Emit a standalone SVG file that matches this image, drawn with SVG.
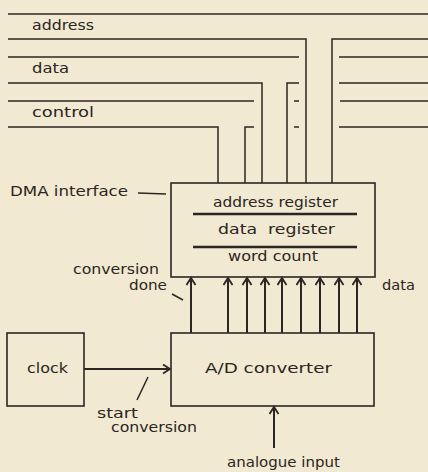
<svg xmlns="http://www.w3.org/2000/svg" width="428" height="472" viewBox="0 0 428 472">
<style>
.ln{stroke:#2b2622;stroke-width:1.5;fill:none}
.box{stroke:#2b2622;stroke-width:1.6;fill:none}
.sep{stroke:#2b2622;stroke-width:2.4}
.ar{stroke:#2b2622;stroke-width:2;fill:none}
text{font-family:"DejaVu Sans","Liberation Sans",sans-serif;font-size:13.5px;fill:#2b2622}
</style>
<defs>
<marker id="ah" markerUnits="userSpaceOnUse" markerWidth="12" markerHeight="12" refX="8" refY="5" orient="auto">
<path d="M1,0.5 L8,5 L1,9.5" fill="none" stroke="#2b2622" stroke-width="1.8"/>
</marker>
</defs>
<rect width="428" height="472" fill="#f2e9d3"/>
<g id="buses">
<path class="ln" d="M8,14 H428"/>
<path class="ln" d="M8,39 H306 V183"/>
<path class="ln" d="M428,39 H332 V183"/>
<path class="ln" d="M8,57 H299"/>
<path class="ln" d="M339,57 H428"/>
<path class="ln" d="M8,83 H262 V183"/>
<path class="ln" d="M299,83 H287 V183"/>
<path class="ln" d="M339,83 H428"/>
<path class="ln" d="M8,101 H254"/>
<path class="ln" d="M294,101 H299"/>
<path class="ln" d="M340,101 H428"/>
<path class="ln" d="M8,127 H218 V183"/>
<path class="ln" d="M254,127 H245 V183"/>
<path class="ln" d="M294,127 H299"/>
<path class="ln" d="M339,127 H428"/>
<text x="32" y="30" textLength="62" lengthAdjust="spacingAndGlyphs">address</text>
<text x="32" y="73" textLength="37" lengthAdjust="spacingAndGlyphs">data</text>
<text x="32" y="117" textLength="62" lengthAdjust="spacingAndGlyphs">control</text>
</g>
<g id="dma">
<rect class="box" x="171" y="183" width="204" height="94"/>
<text x="213" y="207" textLength="125" lengthAdjust="spacingAndGlyphs">address register</text>
<line class="sep" x1="193" y1="214" x2="357" y2="214"/>
<text x="218" y="234" textLength="117" lengthAdjust="spacingAndGlyphs" xml:space="preserve">data  register</text>
<line class="sep" x1="193" y1="247" x2="357" y2="247"/>
<text x="228" y="261" textLength="90" lengthAdjust="spacingAndGlyphs">word count</text>
<text x="10" y="196" textLength="118" lengthAdjust="spacingAndGlyphs">DMA interface</text>
<path class="ln" d="M138,193 L166,194"/>
</g>
<g id="adc">
<rect class="box" x="171" y="333" width="203" height="73"/>
<text x="205" y="373" textLength="127" lengthAdjust="spacingAndGlyphs">A/D converter</text>
</g>
<g id="clock">
<rect class="box" x="7" y="333" width="77" height="73"/>
<text x="27" y="373" textLength="41" lengthAdjust="spacingAndGlyphs">clock</text>
</g>
<g id="connectors">
<path class="ar" d="M191,333 V278" marker-end="url(#ah)"/>
<path class="ar" d="M228,333 V278" marker-end="url(#ah)"/>
<path class="ar" d="M247,333 V278" marker-end="url(#ah)"/>
<path class="ar" d="M265,333 V278" marker-end="url(#ah)"/>
<path class="ar" d="M282,333 V278" marker-end="url(#ah)"/>
<path class="ar" d="M301,333 V278" marker-end="url(#ah)"/>
<path class="ar" d="M320,333 V278" marker-end="url(#ah)"/>
<path class="ar" d="M339,333 V278" marker-end="url(#ah)"/>
<path class="ar" d="M357,333 V278" marker-end="url(#ah)"/>
<path class="ar" d="M84,369 H170" marker-end="url(#ah)"/>
<path class="ar" d="M274,448 V407" marker-end="url(#ah)"/>
</g>
<g id="labels">
<text x="73" y="274" textLength="86" lengthAdjust="spacingAndGlyphs">conversion</text>
<text x="129" y="290" textLength="38" lengthAdjust="spacingAndGlyphs">done</text>
<path class="ln" d="M172,294 L183,300"/>
<text x="382" y="290" textLength="33" lengthAdjust="spacingAndGlyphs">data</text>
<path class="ln" d="M148,377 L137,400"/>
<text x="97" y="418" textLength="41" lengthAdjust="spacingAndGlyphs">start</text>
<text x="111" y="432" textLength="86" lengthAdjust="spacingAndGlyphs">conversion</text>
<text x="227" y="467" textLength="113" lengthAdjust="spacingAndGlyphs">analogue input</text>
</g>
</svg>
